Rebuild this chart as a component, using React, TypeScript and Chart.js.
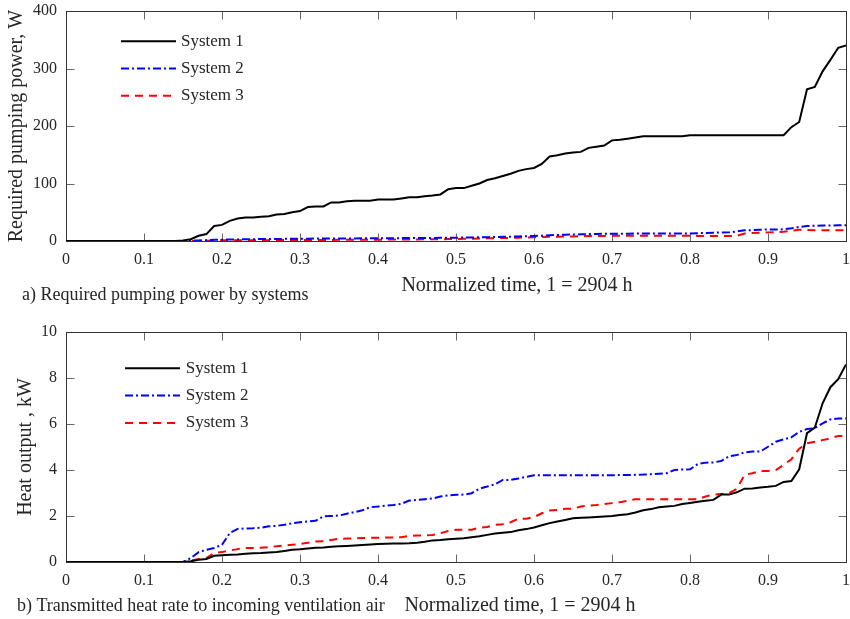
import React, { useEffect, useRef } from 'react';
import { Chart, registerables } from 'chart.js';

Chart.register(...registerables);

const FONT = '"Liberation Serif", "Times New Roman", serif';
const TEXT = '#262626';

// Normalized time (x), shared by all series
const time = [
  0, 0.14,
  0.15, 0.16, 0.17, 0.18, 0.19, 0.2, 0.21, 0.22, 0.23, 0.24,
  0.25, 0.26, 0.27, 0.28, 0.29, 0.3, 0.31, 0.32, 0.33, 0.34,
  0.35, 0.36, 0.37, 0.38, 0.39, 0.4, 0.41, 0.42, 0.43, 0.44,
  0.45, 0.46, 0.47, 0.48, 0.49, 0.5, 0.51, 0.52, 0.53, 0.54,
  0.55, 0.56, 0.57, 0.58, 0.59, 0.6, 0.61, 0.62, 0.63, 0.64,
  0.65, 0.66, 0.67, 0.68, 0.69, 0.7, 0.71, 0.72, 0.73, 0.74,
  0.75, 0.76, 0.77, 0.78, 0.79, 0.8, 0.81, 0.82, 0.83, 0.84,
  0.85, 0.86, 0.87, 0.88, 0.89, 0.9, 0.91, 0.92, 0.93, 0.94,
  0.95, 0.96, 0.97, 0.98, 0.99, 1,
];

// a) Required pumping power, W
const pumpSystem1 = [
  0, 0,
  1, 3, 9, 12, 26, 28, 35, 39, 41, 41,
  42, 43, 46, 47, 50, 52, 59, 60, 60, 67,
  67, 69, 70, 70, 70, 72, 72, 72, 74, 76,
  76, 78, 79, 81, 90, 92, 92, 96, 100, 106,
  109, 113, 117, 122, 125, 127, 134, 147, 149, 152,
  154, 155, 162, 164, 166, 175, 176, 178, 180, 182,
  182, 182, 182, 182, 182, 184, 184, 184, 184, 184,
  184, 184, 184, 184, 184, 184, 184, 184, 198, 207,
  264, 268, 295, 315, 336, 340,
];
const pumpSystem2 = [
  0, 0,
  0, 0.5, 1, 1.5, 2, 2.3, 2.6, 2.8, 3, 3.2,
  3.4, 3.5, 3.6, 3.7, 3.9, 4, 4.1, 4.2, 4.3, 4.4,
  4.4, 4.5, 4.5, 4.6, 4.6, 4.6, 4.8, 4.9, 5, 5.1,
  5.2, 5.3, 5.4, 5.5, 5.7, 5.8, 6, 6.2, 6.4, 6.7,
  7, 7.3, 7.6, 8, 8.4, 8.7, 9.3, 10, 10.5, 11,
  11.3, 11.6, 12, 12.3, 12.5, 12.7, 12.8, 12.8, 12.9, 12.9,
  13, 13, 13, 13, 13, 13, 13.5, 14, 14.5, 14.8,
  15, 16.5, 18.5, 19, 19.5, 20, 20, 20.3, 22, 24.5,
  26, 26.5, 27, 27, 27.2, 27.3,
];
const pumpSystem3 = [
  0, 0,
  0, 0, 0.2, 0.6, 1, 1.2, 1.3, 1.3, 1.4, 1.4,
  1.5, 1.5, 1.6, 1.6, 1.7, 1.7, 1.8, 1.8, 1.9, 1.9,
  2, 2, 2.1, 2.2, 2.2, 2.3, 2.4, 2.5, 2.6, 2.7,
  2.8, 2.9, 3, 3.2, 3.3, 3.5, 3.8, 4, 4.3, 4.6,
  4.9, 5.2, 5.5, 5.8, 6.1, 6.4, 6.8, 7.2, 7.5, 7.8,
  8, 8.3, 8.5, 8.7, 8.9, 9, 9, 9, 9, 9,
  9, 9, 9, 9, 9, 9, 8.9, 8.8, 8.8, 8.7,
  8.7, 9, 13, 14, 14.5, 15, 15.5, 16, 18, 19.5,
  19, 18.7, 18.5, 18.5, 18.5, 18.5,
];

// b) Heat output, kW
const heatSystem1 = [
  0, 0,
  0, 0.03, 0.1, 0.13, 0.27, 0.29, 0.31, 0.33, 0.36, 0.38,
  0.39, 0.41, 0.43, 0.48, 0.53, 0.55, 0.59, 0.62, 0.63, 0.66,
  0.68, 0.7, 0.72, 0.74, 0.76, 0.78, 0.79, 0.8, 0.8, 0.81,
  0.84, 0.88, 0.94, 0.96, 0.99, 1.01, 1.03, 1.08, 1.12, 1.18,
  1.24, 1.27, 1.3, 1.38, 1.43, 1.5, 1.6, 1.69, 1.76, 1.83,
  1.9, 1.92, 1.94, 1.96, 1.98, 2, 2.04, 2.08, 2.15, 2.25,
  2.3, 2.38, 2.41, 2.44, 2.52, 2.57, 2.62, 2.66, 2.7, 2.93,
  2.93, 3.03, 3.19, 3.2, 3.24, 3.27, 3.31, 3.48, 3.52, 4.03,
  5.6, 5.84, 6.9, 7.6, 7.95, 8.59,
];
const heatSystem2 = [
  0, 0,
  0, 0.17, 0.43, 0.53, 0.61, 0.75, 1.26, 1.44, 1.46, 1.47,
  1.49, 1.55, 1.57, 1.62, 1.68, 1.73, 1.76, 1.79, 1.98, 2,
  2.02, 2.1, 2.17, 2.25, 2.38, 2.41, 2.45, 2.48, 2.53, 2.67,
  2.7, 2.73, 2.76, 2.85, 2.9, 2.92, 2.93, 2.99, 3.19, 3.28,
  3.38, 3.57, 3.57, 3.63, 3.7, 3.77, 3.77, 3.77, 3.77, 3.77,
  3.77, 3.77, 3.77, 3.77, 3.77, 3.77, 3.78, 3.78, 3.79, 3.8,
  3.82, 3.84, 3.86, 4, 4.02, 4.03, 4.26, 4.32, 4.33, 4.39,
  4.6, 4.65, 4.77, 4.8, 4.8, 5.01, 5.23, 5.33, 5.42, 5.66,
  5.78, 5.82, 6.03, 6.2, 6.24, 6.24,
];
const heatSystem3 = [
  0, 0,
  0, 0.05, 0.13, 0.17, 0.39, 0.43, 0.5, 0.56, 0.61, 0.61,
  0.62, 0.65, 0.68, 0.72, 0.75, 0.78, 0.84, 0.89, 0.9, 0.96,
  1.01, 1.02, 1.03, 1.04, 1.05, 1.05, 1.06, 1.07, 1.08, 1.14,
  1.15, 1.16, 1.17, 1.25, 1.35, 1.4, 1.4, 1.4, 1.49, 1.52,
  1.62, 1.64, 1.73, 1.88, 1.88, 1.95, 2.12, 2.24, 2.26, 2.31,
  2.32, 2.41, 2.45, 2.48, 2.52, 2.56, 2.6, 2.66, 2.73, 2.73,
  2.73, 2.73, 2.73, 2.73, 2.73, 2.73, 2.73, 2.85, 2.93, 2.96,
  2.99, 3.18, 3.79, 3.86, 3.96, 3.96, 4, 4.22, 4.47, 4.93,
  5.16, 5.23, 5.3, 5.38, 5.48, 5.48,
];

const seriesNames = ['System 1', 'System 2', 'System 3'];
const xTicks = [0, 0.1, 0.2, 0.3, 0.4, 0.5, 0.6, 0.7, 0.8, 0.9, 1];
const pumpTicks = [0, 100, 200, 300, 400];
const heatTicks = [0, 2, 4, 6, 8, 10];
const xTitle = 'Normalized time, 1 = 2904 h';

const seriesStyle = [
  { color: '#000000', dash: [] as number[] },
  { color: '#0000ff', dash: [8, 3, 2, 3] },
  { color: '#ff0000', dash: [8, 6] },
];

type PanelCfg = {
  canvasTop: number;
  canvasHeight: number;
  areaTop: number;
  xAxisHeight: number;
  series: number[][];
  yMax: number;
  yTicks: number[];
  yTitle: string;
  yTitlePad: number;
  caption: string;
  captionX: number;
  captionY: number;
  xTitleX: number;
  xTitleY: number;
  legendLineX: number;
  legendTextX: number;
  legendRowY: number;
  legendRowGap: number;
};

const panels: PanelCfg[] = [
  {
    canvasTop: 0, canvasHeight: 310, areaTop: 11, xAxisHeight: 69,
    series: [pumpSystem1, pumpSystem2, pumpSystem3],
    yMax: 400, yTicks: pumpTicks,
    yTitle: 'Required pumping power, W', yTitlePad: 5,
    caption: 'a) Required pumping power by systems', captionX: 22, captionY: 295,
    xTitleX: 517, xTitleY: 286,
    legendLineX: 55, legendTextX: 115, legendRowY: 30.3, legendRowGap: 27.2,
  },
  {
    canvasTop: 310, canvasHeight: 309, areaTop: 22, xAxisHeight: 57,
    series: [heatSystem1, heatSystem2, heatSystem3],
    yMax: 10, yTicks: heatTicks,
    yTitle: 'Heat output , kW', yTitlePad: 14,
    caption: 'b) Transmitted heat rate to incoming ventilation air', captionX: 17, captionY: 296,
    xTitleX: 520, xTitleY: 296,
    legendLineX: 59, legendTextX: 119.7, legendRowY: 36.3, legendRowGap: 27.3,
  },
];

function makeFramePlugin(cfg: PanelCfg) {
  return {
    id: 'frameAndText',
    beforeDatasetsDraw(chart: any) {
      const { ctx, chartArea } = chart;
      const xs = chart.scales.x;
      const ys = chart.scales.y;
      const L = Math.floor(chartArea.left) + 0.5;
      const R = Math.floor(chartArea.right) + 0.5;
      const T = Math.floor(chartArea.top) + 0.5;
      const B = Math.floor(chartArea.bottom) + 0.5;
      ctx.save();
      ctx.lineWidth = 1;
      ctx.strokeStyle = '#666666';
      const tl = 8;
      ctx.beginPath();
      xTicks.forEach((v) => {
        const px = Math.round(xs.getPixelForValue(v)) + 0.5;
        ctx.moveTo(px, B);
        ctx.lineTo(px, B - tl);
        ctx.moveTo(px, T);
        ctx.lineTo(px, T + tl);
      });
      cfg.yTicks.forEach((v) => {
        const py = Math.round(ys.getPixelForValue(v)) + 0.5;
        ctx.moveTo(L, py);
        ctx.lineTo(L + tl, py);
        ctx.moveTo(R, py);
        ctx.lineTo(R - tl, py);
      });
      ctx.stroke();
      ctx.strokeStyle = '#333333';
      ctx.strokeRect(L, T, R - L, B - T);
      ctx.restore();
    },
    afterDatasetsDraw(chart: any) {
      const { ctx, chartArea } = chart;
      ctx.save();
      chart.data.datasets.forEach((ds: any, i: number) => {
        const y = chartArea.top + cfg.legendRowY + i * cfg.legendRowGap;
        const x0 = chartArea.left + cfg.legendLineX;
        ctx.beginPath();
        ctx.setLineDash(ds.borderDash || []);
        ctx.strokeStyle = ds.borderColor;
        ctx.lineWidth = 2;
        ctx.moveTo(x0, y);
        ctx.lineTo(x0 + 55, y);
        ctx.stroke();
        ctx.setLineDash([]);
        ctx.fillStyle = TEXT;
        ctx.font = `17px ${FONT}`;
        ctx.textAlign = 'left';
        ctx.textBaseline = 'middle';
        ctx.fillText(ds.label, chartArea.left + cfg.legendTextX, y);
      });
      ctx.fillStyle = TEXT;
      ctx.textBaseline = 'middle';
      ctx.font = `20px ${FONT}`;
      ctx.textAlign = 'center';
      ctx.fillText(xTitle, cfg.xTitleX, cfg.xTitleY);
      ctx.font = `18px ${FONT}`;
      ctx.textAlign = 'left';
      ctx.fillText(cfg.caption, cfg.captionX, cfg.captionY);
      ctx.restore();
    },
  };
}

function Panel({ cfg }: { cfg: PanelCfg }) {
  const ref = useRef<HTMLCanvasElement>(null);
  useEffect(() => {
    const canvas = ref.current;
    if (!canvas) return;
    const datasets = cfg.series.map((vals, i) => ({
      label: seriesNames[i],
      data: time.map((t, k) => ({ x: t, y: vals[k] })),
      borderColor: seriesStyle[i].color,
      backgroundColor: seriesStyle[i].color,
      borderDash: seriesStyle[i].dash,
      borderWidth: 2,
      pointRadius: 0,
      tension: 0,
      fill: false,
    }));
    const chart = new Chart(canvas, {
      type: 'line',
      data: { datasets },
      options: {
        responsive: false,
        animation: false,
        devicePixelRatio: 1,
        layout: { padding: { top: cfg.areaTop, right: 4, left: 0, bottom: 0 } },
        plugins: { legend: { display: false }, tooltip: { enabled: false } },
        scales: {
          x: {
            type: 'linear',
            min: 0,
            max: 1,
            grid: { display: false, drawTicks: false },
            border: { display: false },
            afterBuildTicks: (s: any) => {
              s.ticks = xTicks.map((v) => ({ value: v }));
            },
            afterFit: (s: any) => {
              s.height = cfg.xAxisHeight;
              s.paddingLeft = 0;
              s.paddingRight = 0;
            },
            ticks: {
              padding: 9,
              color: TEXT,
              font: { family: FONT, size: 16 },
              maxRotation: 0,
              autoSkip: false,
              callback: (v: any) => String(v),
            },
          },
          y: {
            type: 'linear',
            min: 0,
            max: cfg.yMax,
            grid: { display: false, drawTicks: false },
            border: { display: false },
            afterBuildTicks: (s: any) => {
              s.ticks = cfg.yTicks.map((v) => ({ value: v }));
            },
            afterFit: (s: any) => {
              s.width = 66;
              s.paddingTop = 0;
              s.paddingBottom = 0;
            },
            ticks: {
              padding: 9,
              color: TEXT,
              font: { family: FONT, size: 16 },
              callback: (v: any) => String(v),
            },
            title: {
              display: true,
              text: cfg.yTitle,
              color: TEXT,
              font: { family: FONT, size: 20 },
              padding: { top: cfg.yTitlePad, bottom: 0 },
            },
          },
        },
      } as any,
      plugins: [makeFramePlugin(cfg)],
    });
    return () => chart.destroy();
  }, [cfg]);
  return (
    <canvas
      ref={ref}
      width={850}
      height={cfg.canvasHeight}
      style={{ position: 'absolute', left: 0, top: cfg.canvasTop, width: 850, height: cfg.canvasHeight }}
    />
  );
}

export default function App() {
  return (
    <div style={{ position: 'absolute', left: 0, top: 0, width: 850, height: 619, background: '#ffffff' }}>
      {panels.map((p, i) => (
        <Panel key={i} cfg={p} />
      ))}
    </div>
  );
}
